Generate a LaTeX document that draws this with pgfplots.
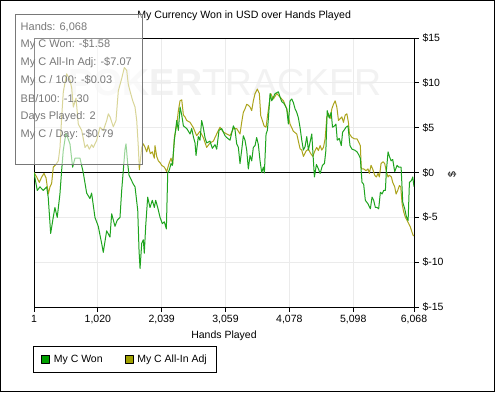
\documentclass[border=0pt]{standalone}
\usepackage{fontspec}
\setmainfont{Liberation Sans}
\usepackage{pgfplots}
\pgfplotsset{compat=1.18}
\definecolor{cgreen}{RGB}{30,164,30}
\definecolor{colive}{RGB}{172,164,28}
\definecolor{lgreen}{RGB}{0,160,0}
\definecolor{lolive}{RGB}{160,160,0}
\definecolor{gridc}{RGB}{235,235,235}
\definecolor{wm}{RGB}{242,242,242}
\definecolor{tipc}{RGB}{120,120,120}
\newcommand{\fs}{\fontsize{10.5}{12}\selectfont}
\begin{document}
\begin{tikzpicture}
\useasboundingbox (0pt,0pt) rectangle (495pt,392pt);
\fill[white] (0pt,0pt) rectangle (495pt,392pt);
\node[text=wm, font=\fontsize{37.5}{40}\selectfont, inner sep=0pt] at (225pt,309pt) {\textbf{POKER}TRACKER};
\begin{axis}[
  at={(34pt,85pt)}, anchor=south west,
  scale only axis, width=380pt, height=269pt,
  xmin=1, xmax=6068, ymin=-15, ymax=15,
  axis line style={black, line width=1pt},
  xtick={1,1020,2039,3059,4078,5098,6068},
  xticklabels={1,{1,020},{2,039},{3,059},{4,078},{5,098},{6,068}},
  ytick={-15,-10,-5,0,5,10,15},
  yticklabels={\$-15,\$-10,\$-5,\$0,\$5,\$10,\$15},
  xtick pos=left, ytick pos=right, yticklabel pos=right,
  tick align=outside, major tick length=5pt,
  tick style={black, line width=1pt},
  ticklabel style={font=\fs},
  grid=major, major grid style={gridc, line width=1pt},
  title={My Currency Won in USD over Hands Played},
  title style={font=\fontsize{10.6}{12}\selectfont, at={(axis description cs:0.553,1.059)}, anchor=center},
  xlabel={Hands Played},
  xlabel style={font=\fs, at={(axis description cs:0.5,-0.108)}, anchor=center},
  ylabel={\$},
  ylabel style={font=\fs, at={(axis description cs:1.1,0.494)}, anchor=center, rotate=0},
  legend columns=2,
  reverse legend,
  legend style={at={(axis description cs:-0.003,-0.145)}, anchor=north west,
    draw=black, line width=0.8pt, font=\fs, inner xsep=8pt, inner ysep=6.5pt,
    /tikz/every odd column/.append style={column sep=2pt},
    /tikz/every even column/.append style={column sep=20pt}},
  legend cell align=left,
  clip=true,
]
\draw[black, line width=1pt] (axis cs:1,0) -- (axis cs:6068,0);
\addplot[colive, line width=1pt, line join=round, no markers,
  legend image code/.code={\draw[fill=lolive, draw=black, line width=0.6pt] (0pt,-4pt) rectangle (8pt,4pt);}] coordinates {
(1,0) (44,-0.5) (86,-1.1) (124,-0.5) (161,-0.1) (193,-0.6) (230,-2.4) (256,-1.6) (283,-1.2) (309,0.6) (352,0.9) (389,1.3) (416,2.8) (443,6.2) (469,9.0) (523,11.0) (576,10.3) (603,9.4) (629,7.3) (672,8.3) (708,5.4) (762,4.7) (815,2.8) (852,3.1) (884,2.6) (922,3.1) (948,2.8) (1002,3.6) (1055,5.05) (1108,4.7) (1162,5.8) (1188,6.55) (1215,6.2) (1267,5.1) (1310,5.8) (1347,9.1) (1402,10.5) (1443,11.7) (1481,11.4) (1507,9.8) (1545,8.8) (1577,8.0) (1614,7.3) (1641,5.8) (1667,2.8) (1683,0.3) (1721,2.8) (1746,3.2) (1774,2.8) (1801,2.3) (1826,3.0) (1858,2.1) (1890,2.3) (1922,1.6) (1933,3.0) (1960,1.8) (1986,1.3) (2013,1.1) (2040,0.8) (2082,0.6) (2120,0.1) (2157,1.0) (2189,1.6) (2216,0.9) (2242,3.9) (2280,5.3) (2306,6.9) (2333,8.0) (2360,8.1) (2386,6.4) (2412,6.2) (2439,5.8) (2492,5.6) (2545,5.0) (2598,4.1) (2651,4.6) (2704,3.9) (2758,2.8) (2811,3.3) (2864,3.5) (2918,4.3) (2971,5.05) (3024,4.5) (3078,4.3) (3131,4.1) (3184,4.9) (3237,4.9) (3290,4.3) (3317,5.6) (3343,6.7) (3370,7.1) (3397,7.6) (3423,7.5) (3450,7.3) (3477,6.9) (3503,8.0) (3530,8.8) (3567,9.3) (3599,8.8) (3621,6.35) (3647,5.8) (3674,5.2) (3706,5.05) (3727,6.2) (3759,7.8) (3781,8.8) (3823,8.2) (3876,8.8) (3930,8.4) (3983,8.0) (4036,7.1) (4089,5.4) (4142,4.6) (4196,4.3) (4249,2.65) (4276,2.5) (4302,1.8) (4345,2.4) (4382,2.6) (4420,2.1) (4452,1.8) (4488,2.45) (4515,2.8) (4542,2.45) (4569,3.0) (4596,2.5) (4622,2.8) (4649,3.75) (4676,6.2) (4702,6.6) (4729,6.0) (4756,7.1) (4782,7.6) (4809,8.0) (4836,7.3) (4862,5.8) (4889,6.0) (4916,6.2) (4942,5.6) (4969,6.4) (4996,6.55) (5021,5.6) (5037,4.3) (5078,3.9) (5120,3.75) (5158,3.75) (5184,3.4) (5211,3.0) (5227,0.4) (5264,0.4) (5302,0.2) (5334,0.4) (5355,-0.1) (5382,0.8) (5408,0.4) (5440,-0.3) (5467,-0.5) (5494,-0.1) (5515,-0.5) (5542,1.0) (5574,1.2) (5600,1.0) (5627,0.1) (5654,-0.5) (5675,-0.3) (5707,-0.5) (5728,-1.1) (5760,-1.6) (5782,-2.4) (5808,-2.0) (5835,-1.45) (5856,-1.6) (5878,-3.5) (5904,-4.4) (5931,-5.0) (5958,-5.35) (5984,-5.7) (6011,-6.1) (6038,-6.7) (6054,-7.0) (6068,-7.07)
};
\addlegendentry{My C All-In Adj}
\addplot[cgreen, line width=1pt, line join=round, no markers,
  legend image code/.code={\draw[fill=lgreen, draw=black, line width=0.6pt] (0pt,-4pt) rectangle (8pt,4pt);}] coordinates {
(1,0) (53,-2.0) (96,-1.6) (149,-2.0) (203,-1.6) (228,-2.75) (267,-6.8) (308,-5.0) (335,-3.9) (372,-5.0) (415,-2.4) (442,0.2) (468,2.45) (511,4.4) (575,3.2) (618,0.6) (655,1.6) (735,1.6) (787,0) (842,-2.3) (894,-2.9) (921,-2.3) (974,-5.0) (1027,-6.0) (1081,-7.9) (1107,-8.9) (1161,-6.5) (1214,-7.2) (1241,-4.6) (1294,-6.0) (1331,-5.3) (1374,-5.0) (1401,-2.0) (1454,2.6) (1470,3.2) (1497,1.0) (1518,-0.3) (1587,-1.3) (1614,-1.6) (1657,-4.2) (1678,-8.7) (1694,-10.7) (1721,-7.9) (1746,-7.5) (1762,-9.0) (1784,-6.0) (1816,-2.75) (1853,-3.9) (1890,-3.1) (1922,-3.9) (1944,-3.1) (1976,-3.9) (2013,-5.0) (2050,-5.7) (2082,-5.5) (2114,-6.3) (2136,-0.1) (2162,0.3) (2189,1.0) (2210,0.8) (2242,3.6) (2280,5.8) (2306,4.7) (2333,7.3) (2360,6.4) (2386,5.2) (2440,4.9) (2492,4.3) (2519,4.9) (2545,4.0) (2572,3.3) (2588,1.9) (2624,4.0) (2651,3.6) (2678,5.8) (2704,5.0) (2731,3.9) (2758,3.3) (2811,3.5) (2848,2.7) (2891,3.1) (2918,2.6) (2955,4.7) (2998,4.9) (3051,4.1) (3078,3.9) (3131,3.6) (3184,5.2) (3210,4.8) (3237,3.2) (3264,2.8) (3290,1.0) (3317,2.5) (3343,4.1) (3370,3.6) (3397,2.5) (3423,0.4) (3450,1.9) (3477,1.3) (3503,2.8) (3530,3.0) (3556,3.9) (3583,3.1) (3610,1.3) (3636,0) (3663,0.6) (3679,-0.05) (3706,4.3) (3727,4.7) (3743,6.0) (3770,8.8) (3797,8.0) (3823,8.4) (3850,8.8) (3903,9.0) (3930,8.4) (3957,7.9) (3993,7.7) (4036,7.1) (4062,5.4) (4089,8.0) (4116,8.2) (4142,7.8) (4169,7.1) (4196,6.7) (4222,6.1) (4249,5.0) (4276,3.6) (4302,2.5) (4329,2.9) (4356,4.0) (4382,2.5) (4409,3.4) (4436,4.3) (4462,1.3) (4478,-0.5) (4510,0.9) (4542,0.4) (4569,-0.1) (4606,0.8) (4638,1.0) (4661,2.45) (4682,6.9) (4714,6.1) (4746,6.7) (4767,5.05) (4799,5.2) (4822,5.4) (4843,3.6) (4875,3.8) (4907,3.0) (4928,4.5) (4950,4.7) (4982,5.05) (5014,5.2) (5046,3.0) (5078,2.6) (5120,2.5) (5158,2.3) (5184,2.0) (5211,1.6) (5238,-1.1) (5264,-1.3) (5291,-3.1) (5334,-3.5) (5371,-4.05) (5398,-2.75) (5424,-3.1) (5451,-3.9) (5478,-3.9) (5504,-4.05) (5531,-2.2) (5558,-2.4) (5584,-2.0) (5611,-2.0) (5627,0.2) (5654,2.3) (5675,1.8) (5702,1.3) (5728,1.45) (5760,0.1) (5798,0.8) (5824,0.6) (5862,0.6) (5888,-3.3) (5920,-4.05) (5947,-4.95) (5974,-5.35) (5995,-1.1) (6027,-0.9) (6048,-0.5) (6068,-1.58)
};
\addlegendentry{My C Won}
\end{axis}
\draw[black, line width=1pt] (0.5pt,0.5pt) rectangle (494.5pt,391.5pt);
\draw[draw=tipc, line width=1pt, fill=white, fill opacity=0.55] (15.5pt,228pt) rectangle (142.5pt,377pt);
\begin{scope}[every node/.style={anchor=west, text=tipc, font=\fontsize{11}{12}\selectfont, inner sep=0pt}]
\node at (20.5pt,365pt) {Hands: 6,068};
\node at (20.5pt,347pt) {My C Won: -\$1.58};
\node at (20.5pt,329pt) {My C All-In Adj: -\$7.07};
\node at (20.5pt,311pt) {My C / 100: -\$0.03};
\node at (20.5pt,293pt) {BB/100: -1.30};
\node at (20.5pt,275pt) {Days Played: 2};
\node at (20.5pt,257pt) {My C / Day: -\$0.79};
\end{scope}
\end{tikzpicture}
\end{document}
